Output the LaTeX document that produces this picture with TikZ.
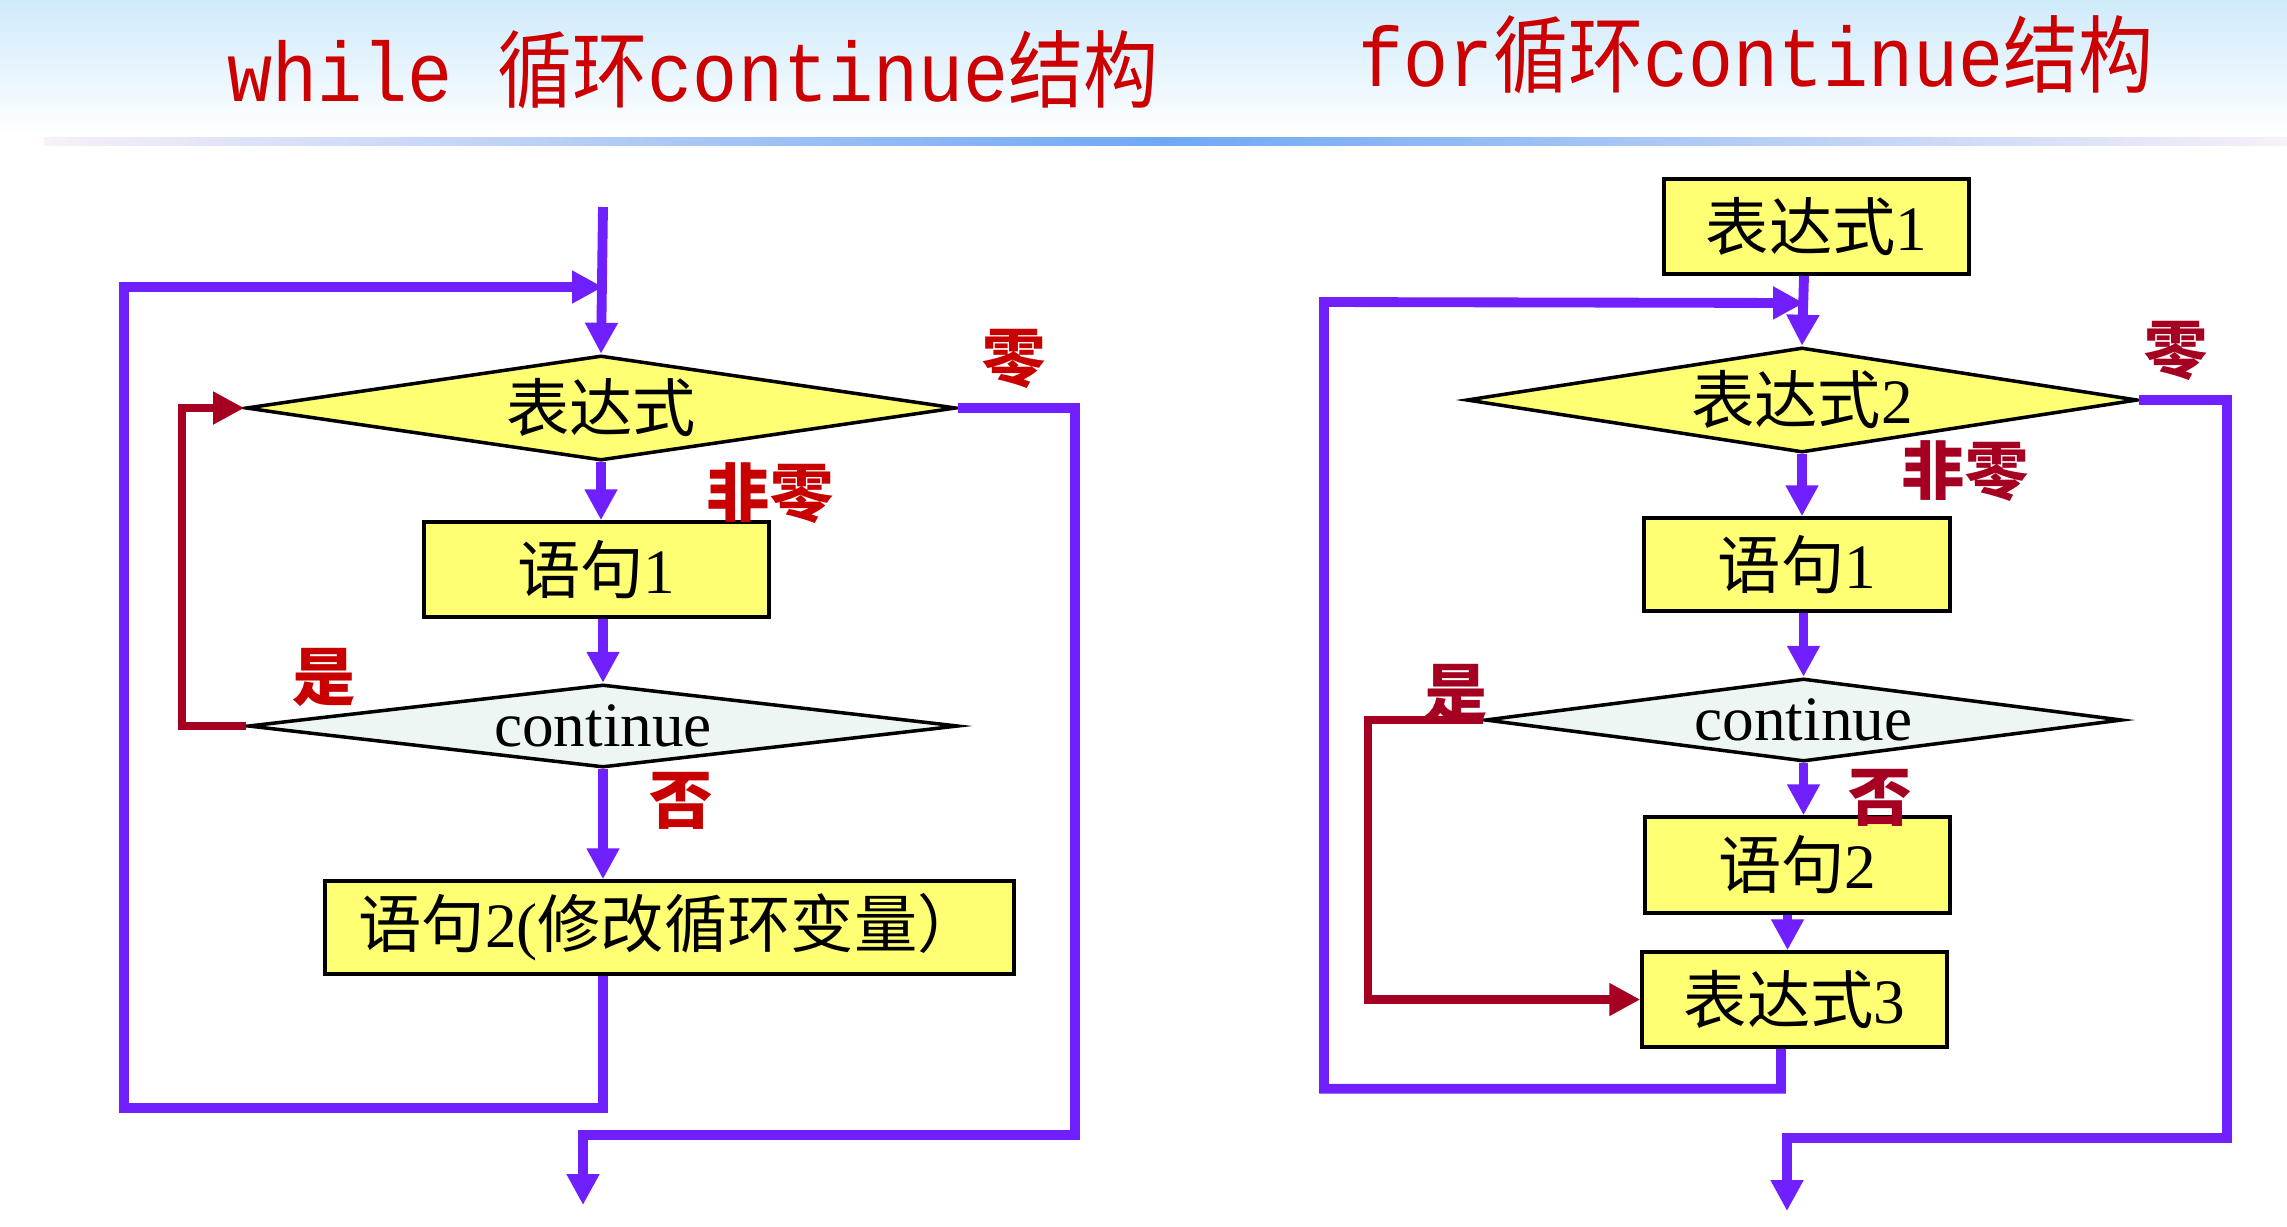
\documentclass[tikz,border=0pt]{standalone}
\usepackage{fontspec}
\setmainfont{Liberation Serif}
\newfontfamily\cjk{Noto Sans CJK SC}
\newfontfamily\titlemono{Liberation Mono}
\usepackage{tikz}
\usetikzlibrary{positioning}
\usetikzlibrary{shapes.geometric}
\usetikzlibrary{arrows.meta}

\definecolor{flowpurple}{HTML}{7020FF}
\definecolor{boxyellow}{HTML}{FFFF73}
\definecolor{contmint}{HTML}{EDF6F2}
\definecolor{labelred}{HTML}{C80000}
\definecolor{labelcrimson}{HTML}{A50021}
\definecolor{titlered}{HTML}{CC0000}
\definecolor{skytop}{HTML}{CFEAFB}
\definecolor{barblue}{HTML}{6EA8F4}
\definecolor{barpale}{HTML}{F7F0F8}

\tikzset{
  stepbox/.style={rectangle, draw=black, line width=1pt, fill=boxyellow,
    inner sep=0pt, font=\fontsize{18}{20}\selectfont},
  testbox/.style={diamond, draw=black, line width=1pt, fill=boxyellow,
    inner sep=0pt, font=\fontsize{18}{20}\selectfont},
  flow/.style={draw=flowpurple, line width=2.8pt,
    -{Triangle[length=0.31cm, width=0.31cm]}},
  yesflow/.style={draw=labelcrimson, line width=2.1pt,
    -{Triangle[length=0.31cm, width=0.31cm]}},
  answer/.style={font=\cjk\bfseries\fontsize{18}{20}\selectfont},
  heading/.style={text=titlered, font=\fontsize{24}{26}\selectfont}
}

\begin{document}
\begin{tikzpicture}

\useasboundingbox (0,0) rectangle (22.87,-12.26);
\fill[white] (0,0) rectangle (22.87,-12.26);
\fill[top color=skytop, bottom color=white] (0,0) rectangle (22.87,-1.36);
\fill[left color=barpale, right color=barpale, middle color=barblue]
  (0.44,-1.37) rectangle (22.87,-1.45);

\node[heading] (whiletitle) at (6.93,-0.70) {
  \scalebox{0.89}[1]{\titlemono while {\cjk 循环}continue{\cjk 结构}}
};
\node[heading] (fortitle) at (17.56,-0.55) {
  \scalebox{0.89}[1]{\titlemono for{\cjk 循环}continue{\cjk 结构}}
};

\begin{scope}
\coordinate (lin) at (6.03,-2.07);
\coordinate (lloop) at (6.03,-2.87);
\coordinate (lout) at (5.83,-12.05);

\node[testbox, aspect=6.76, minimum width=7.10cm, minimum height=1.05cm]
  (lexpr) at (6.01,-4.08) {\cjk 表达式};
\node[stepbox, minimum width=3.45cm, minimum height=0.95cm]
  (lstmt1) at (5.965,-5.695) {{\cjk 语句}1};
\node[testbox, fill=contmint, aspect=8.55, minimum width=7.10cm, minimum height=0.83cm]
  (lcont) at (6.03,-7.26) {continue};
\node[stepbox, minimum width=6.89cm, minimum height=0.93cm]
  (lstmt2) at (6.695,-9.275) {{\cjk 语句}2({\cjk 修改循环变量）}};

\draw[flow] (lin) to (lexpr.north);
\draw[flow] (lexpr.south) to (lexpr.south |- lstmt1.north);
\draw[flow] (lcont.north |- lstmt1.south) to (lcont.north);
\draw[flow] (lcont.south) to (lcont.south |- lstmt2.north);

\draw[yesflow]
  (lcont.west)
    --
  (1.82,-7.26)
    |-
  (lexpr.west);

\draw[flow]
  (lin |- lstmt2.south)
    --
  (6.03,-11.08)
    -|
  (1.24,-2.87)
    --
  (lloop);

\draw[flow]
  (lexpr.east)
    --
  (10.75,-4.08)
    --
  (10.75,-11.35)
    --
  (5.83,-11.35)
    --
  (lout);

\node[answer, text=labelred] (lzero) at (10.14,-3.59) {零};
\node[answer, text=labelred] (lnonzero) at (7.70,-4.93) {非零};
\node[answer, text=labelred] (lyes) at (3.24,-6.77) {是};
\node[answer, text=labelred] (lno) at (6.81,-8.01) {否};
\end{scope}

\begin{scope}
\coordinate (rloop) at (18.04,-3.03);
\coordinate (rout) at (17.87,-12.11);

\node[stepbox, minimum width=3.05cm, minimum height=0.95cm]
  (rinit) at (18.165,-2.265) {{\cjk 表达式}1};
\node[testbox, aspect=6.39, minimum width=6.71cm, minimum height=1.05cm]
  (rexpr) at (18.02,-4.00) {{\cjk 表达式}2};
\node[stepbox, minimum width=3.06cm, minimum height=0.93cm]
  (rstmt1) at (17.97,-5.645) {{\cjk 语句}1};
\node[testbox, fill=contmint, aspect=7.67, minimum width=6.37cm, minimum height=0.83cm]
  (rcont) at (18.035,-7.20) {continue};
\node[stepbox, minimum width=3.05cm, minimum height=0.96cm]
  (rstmt2) at (17.975,-8.65) {{\cjk 语句}2};
\node[stepbox, minimum width=3.05cm, minimum height=0.95cm]
  (rincr) at (17.945,-9.995) {{\cjk 表达式}3};

\draw[flow] (rinit.south -| rloop) to (rexpr.north);
\draw[flow] (rexpr.south) to (rexpr.south |- rstmt1.north);
\draw[flow] (rcont.north |- rstmt1.south) to (rcont.north);
\draw[flow] (rcont.south) to (rcont.south |- rstmt2.north);
\draw[flow] ([xshift=-1mm]rstmt2.south) to ([xshift=-1mm]rstmt2.south |- rincr.north);

\draw[yesflow, line width=2.5pt]
  (rcont.west)
    --
  (13.68,-7.20)
    |-
  (rincr.west);

\draw[flow]
  ([xshift=-1.35mm]rincr.south)
    --
  ++(0,-0.40)
    -|
  (13.24,-3.02)
    --
  (rloop);

\draw[flow]
  (rexpr.east)
    --
  (22.27,-4.00)
    --
  (22.27,-11.38)
    --
  (17.87,-11.38)
    --
  (rout);

\node[answer, text=labelcrimson] (rzero) at (21.76,-3.51) {零};
\node[answer, text=labelcrimson] (rnonzero) at (19.65,-4.71) {非零};
\node[answer, text=labelcrimson] (ryes) at (14.56,-6.93) {是};
\node[answer, text=labelcrimson] (rno) at (18.80,-7.98) {否};
\end{scope}

\end{tikzpicture}
\end{document}
